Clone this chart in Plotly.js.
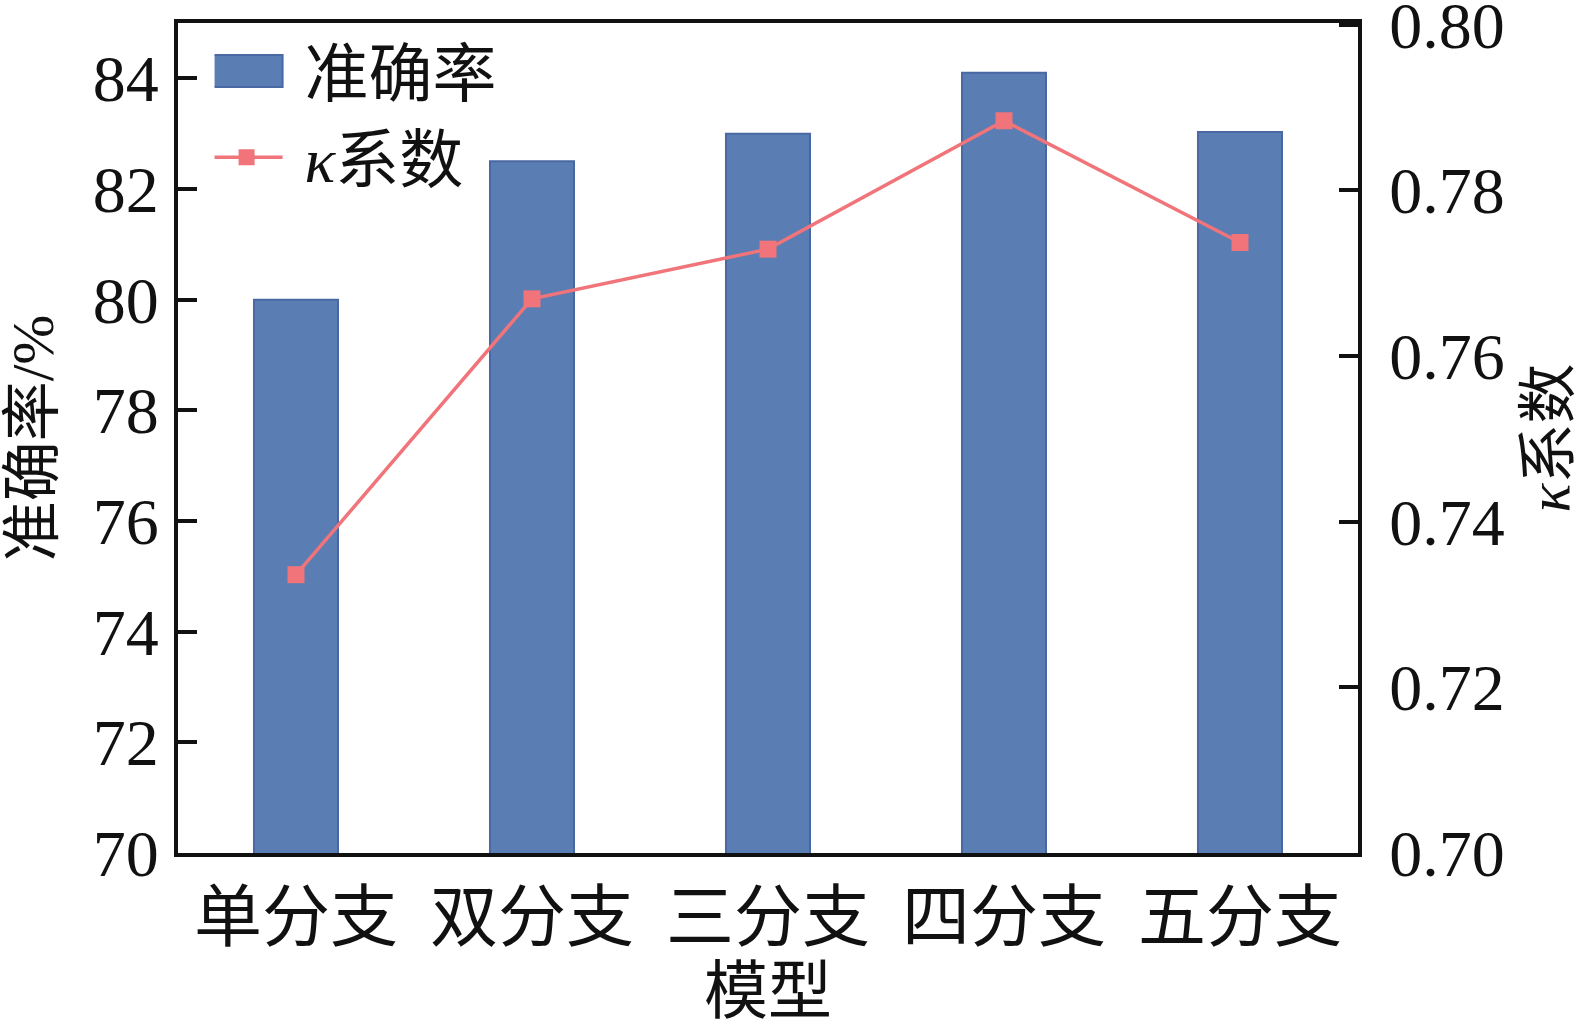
<!DOCTYPE html>
<html>
<head>
<meta charset="utf-8">
<script src="https://cdn.plot.ly/plotly-3.0.1.min.js"></script>
<style>
  html, body { margin: 0; padding: 0; background: #fff; }
  #chart { width: 1582px; height: 1027px; }
</style>
</head>
<body>
<div id="chart"></div>
<script>
// model names (x axis)
var models = ['单分支', '双分支', '三分支', '四分支', '五分支'];
// accuracy in %, left axis
var accuracy = [80.0, 82.5, 83.0, 84.1, 83.03];
// kappa coefficient, right axis
var kappa = [0.7336, 0.7669, 0.7729, 0.7884, 0.7737];

var leftTicks = [70, 72, 74, 76, 78, 80, 82, 84];
var rightTicks = [0.70, 0.72, 0.74, 0.76, 0.78, 0.80];

var FONT = '"Liberation Serif", "Times New Roman", "Noto Sans CJK SC", serif';

var barTrace = {
    type: 'bar',
    name: '准确率',
    x: models,
    y: accuracy,
    width: 0.356,
    marker: { color: '#5a7db4', line: { color: '#4a68a3', width: 2 } },
    yaxis: 'y'
};

var kappaTrace = {
    type: 'scatter',
    mode: 'lines+markers',
    name: '<i>κ</i>系数',
    x: models,
    y: kappa,
    line: { color: '#f07479', width: 3.5 },
    marker: { color: '#f07479', symbol: 'square', size: 17 },
    yaxis: 'y2'
};

var layout = {
    width: 1582,
    height: 1027,
    margin: { l: 178, r: 224, t: 23, b: 174 },
    paper_bgcolor: '#fff',
    plot_bgcolor: '#fff',
    font: { family: FONT, size: 62, color: '#111' },
    showlegend: true,
    legend: {
        x: 0.031, y: 1.0, xanchor: 'left', yanchor: 'top',
        bgcolor: 'rgba(0,0,0,0)',
        font: { family: FONT, size: 64, color: '#111' },
        itemwidth: 80,
        tracegroupgap: 0
    },
    xaxis: {
        type: 'category',
        range: [-0.5, 4.5],
        showline: true, linecolor: '#111', linewidth: 4,
        mirror: true,
        ticks: '',
        showgrid: false,
        zeroline: false,
        tickfont: { family: FONT, size: 68, color: '#111' },
        ticklabelstandoff: 2,
        title: { text: '模型', font: { family: FONT, size: 64, color: '#111' }, standoff: 24 }
    },
    yaxis: {
        range: [70, 85],
        tickvals: leftTicks,
        showline: true, linecolor: '#111', linewidth: 4,
        ticks: 'inside', ticklen: 19, tickwidth: 4, tickcolor: '#111',
        showgrid: false,
        zeroline: false,
        ticklabelstandoff: 2,
        tickfont: { family: FONT, size: 66, color: '#111' },
        title: { text: '准确率/%', font: { family: FONT, size: 60, color: '#111' }, standoff: 24 }
    },
    yaxis2: {
        overlaying: 'y',
        side: 'right',
        range: [0.70, 0.8002],
        tickvals: rightTicks,
        tickformat: '.2f',
        showline: true, linecolor: '#111', linewidth: 4,
        ticks: 'inside', ticklen: 19, tickwidth: 4, tickcolor: '#111',
        showgrid: false,
        zeroline: false,
        ticklabelstandoff: 14,
        ticklabeloverflow: 'allow',
        tickfont: { family: FONT, size: 66, color: '#111' },
        title: { text: '<i>κ</i>系数', font: { family: FONT, size: 60, color: '#111' }, standoff: 30 }
    }
};

// widen the legend symbols so they look like the original figure
function fixLegend(gd) {
    var traces = gd.querySelectorAll('.legend .traces');
    traces.forEach(function (tr) {
        var txt = tr.querySelector('text.legendtext');
        if (!txt) return;
        var target = txt.getBoundingClientRect().left - 22 - 36;
        var shift = function (el) {
            var r = el.getBoundingClientRect();
            var dx = target - (r.left + r.width / 2);
            var t = el.getAttribute('transform') || '';
            el.setAttribute('transform', 'translate(' + dx + ',0) ' + t);
        };
        var bar = tr.querySelector('.legendpoints path');
        var line = tr.querySelector('.legendlines path');
        if (line) {
            line.setAttribute('d', 'M-36,0h72');
            shift(line);
            tr.querySelectorAll('.legendpoints path').forEach(shift);
        } else if (bar) {
            bar.setAttribute('d', 'M36,16H-36V-16H36Z');
            shift(bar);
        }
    });
}

Plotly.newPlot('chart', [barTrace, kappaTrace], layout, { displayModeBar: false, staticPlot: true })
    .then(fixLegend);
</script>
</body>
</html>
